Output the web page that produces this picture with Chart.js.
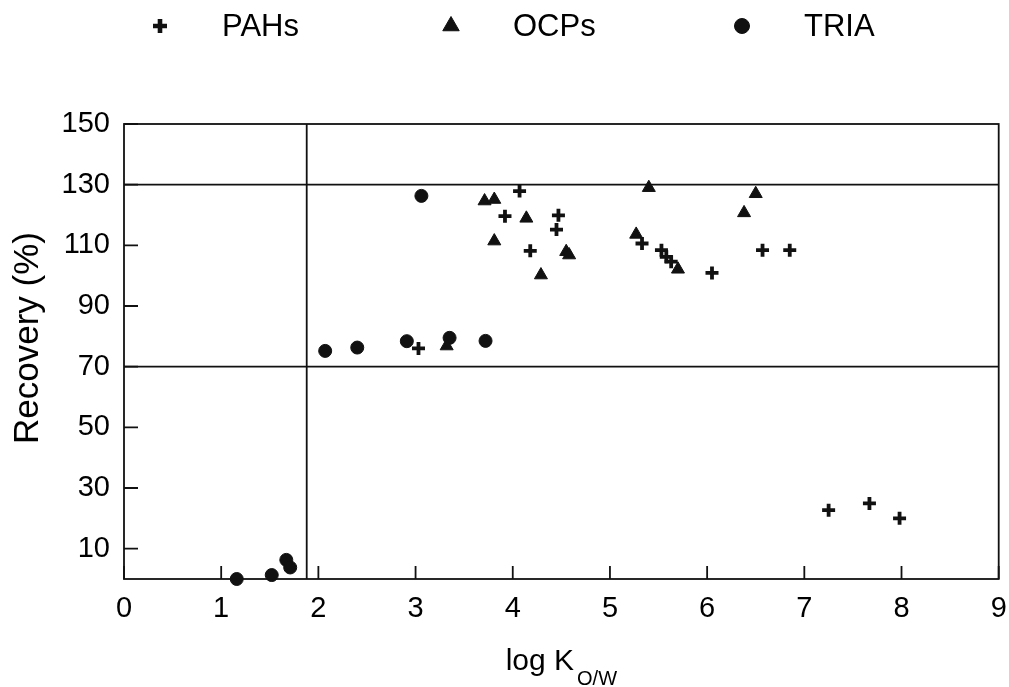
<!DOCTYPE html>
<html>
<head>
<meta charset="utf-8">
<script src="https://cdn.jsdelivr.net/npm/chart.js@4/dist/chart.umd.min.js"></script>
<style>
  body { margin: 0; background: #fff; }
  canvas { display: block; }
</style>
</head>
<body>
<canvas id="recoveryChart" width="1009" height="687"></canvas>
<script>
// series (x = log Ko/w, y = recovery %)
const pahX = [4.07, 3.92, 4.18, 3.03, 4.47, 4.45, 5.33, 5.53, 5.58, 5.63, 6.05, 6.57, 6.85, 7.25, 7.67, 7.98];
const pahY = [127.9, 119.6, 108.2, 76.0, 119.9, 115.2, 110.6, 108.4, 106.2, 104.6, 100.9, 108.4, 108.4, 22.7, 24.9, 20.0];
const ocpX = [3.71, 3.81, 4.14, 3.81, 4.29, 3.32, 4.55, 4.58, 5.40, 6.50, 6.38, 5.27, 5.70];
const ocpY = [124.6, 125.1, 118.9, 111.4, 100.2, 76.8, 107.9, 106.8, 129.0, 127.0, 120.7, 113.6, 102.1];
const triaX = [3.06, 2.07, 2.40, 2.91, 3.35, 3.72, 1.16, 1.52, 1.67, 1.71];
const triaY = [126.3, 75.2, 76.3, 78.4, 79.5, 78.5, 0.0, 1.3, 6.3, 3.8];

const seriesNames = ['PAHs', 'OCPs', 'TRIA'];
const xTicks = [0, 1, 2, 3, 4, 5, 6, 7, 8, 9];
const yTicks = [10, 30, 50, 70, 90, 110, 130, 150];
const refLinesY = [70, 130];
const refLineX = 1.88;

const ink = '#111';
const fontFamily = "'Liberation Sans', Arial, Helvetica, sans-serif";

function toPoints(xs, ys) {
    return xs.map((x, i) => ({ x: x, y: ys[i] }));
}

const markers = [
    { pointStyle: 'cross', radius: 6.5, borderWidth: 3.8, legendRadius: 7, legendWidth: 4.6 },
    { pointStyle: 'triangle', radius: 7.5, borderWidth: 1, legendRadius: 9.5, legendWidth: 1 },
    { pointStyle: 'circle', radius: 6.5, borderWidth: 1, legendRadius: 7.5, legendWidth: 1 }
];

const pointSets = [toPoints(pahX, pahY), toPoints(ocpX, ocpY), toPoints(triaX, triaY)];

const datasets = pointSets.map((pts, i) => ({
    label: seriesNames[i],
    data: pts,
    pointStyle: markers[i].pointStyle,
    pointRadius: markers[i].radius,
    pointBorderWidth: markers[i].borderWidth,
    pointBackgroundColor: ink,
    pointBorderColor: ink,
    clip: false
}));

// the two horizontal limits and the vertical divider
refLinesY.forEach(v => {
    datasets.push({
        label: '',
        data: [{ x: xTicks[0], y: v }, { x: xTicks[xTicks.length - 1], y: v }],
        showLine: true, borderColor: ink, borderWidth: 1.8, pointRadius: 0
    });
});
datasets.push({
    label: '',
    data: [{ x: refLineX, y: 0 }, { x: refLineX, y: yTicks[yTicks.length - 1] }],
    showLine: true, borderColor: ink, borderWidth: 1.8, pointRadius: 0
});

// box, inward ticks, axis titles and the legend row
const framePlugin = {
    id: 'framePlugin',
    afterDraw(chart) {
        const { ctx, chartArea: a, scales: { x, y } } = chart;
        ctx.save();
        ctx.strokeStyle = ink;
        ctx.lineWidth = 1.8;
        ctx.strokeRect(a.left, a.top, a.right - a.left, a.bottom - a.top);

        ctx.beginPath();
        xTicks.forEach(v => {
            const px = x.getPixelForValue(v);
            ctx.moveTo(px, a.bottom);
            ctx.lineTo(px, a.bottom - 13);
        });
        yTicks.forEach(v => {
            const py = y.getPixelForValue(v);
            ctx.moveTo(a.left, py);
            ctx.lineTo(a.left + 14, py);
        });
        ctx.stroke();

        ctx.fillStyle = '#000';
        // x title with subscript
        const mainFont = '30px ' + fontFamily;
        const subFont = '20px ' + fontFamily;
        ctx.font = mainFont;
        const mainText = 'log K';
        const mainW = ctx.measureText(mainText).width;
        ctx.font = subFont;
        const subText = 'O/W';
        const subW = ctx.measureText(subText).width;
        const cx = (a.left + a.right) / 2;
        const startX = cx - (mainW + subW + 3) / 2;
        ctx.textAlign = 'left';
        ctx.textBaseline = 'alphabetic';
        ctx.font = mainFont;
        ctx.fillText(mainText, startX, 670);
        ctx.font = subFont;
        ctx.fillText(subText, startX + mainW + 3, 685);

        // y title
        ctx.save();
        ctx.translate(28, 338);
        ctx.rotate(-Math.PI / 2);
        ctx.font = '35px ' + fontFamily;
        ctx.textAlign = 'center';
        ctx.textBaseline = 'middle';
        ctx.fillText('Recovery (%)', 0, 0);
        ctx.restore();

        // legend
        const legendY = 26;
        ctx.font = '31px ' + fontFamily;
        ctx.textAlign = 'left';
        ctx.textBaseline = 'middle';
        seriesNames.forEach((name, i) => {
            const mx = 160 + i * 291;
            ctx.fillStyle = ink;
            ctx.strokeStyle = ink;
            ctx.lineWidth = markers[i].legendWidth;
            Chart.helpers.drawPoint(ctx, {
                pointStyle: markers[i].pointStyle,
                radius: markers[i].legendRadius,
                rotation: 0,
                borderWidth: markers[i].legendWidth
            }, mx, legendY);
            ctx.fillStyle = '#000';
            ctx.fillText(name, mx + 62, legendY + 1);
        });
        ctx.restore();
    }
};

const ctx = document.getElementById('recoveryChart').getContext('2d');

const chart = new Chart(ctx, {
    type: 'scatter',
    data: { datasets: datasets },
    options: {
        responsive: false,
        animation: false,
        layout: { padding: { top: 124, right: 10, left: 0, bottom: 0 } },
        plugins: {
            legend: { display: false },
            tooltip: { enabled: false }
        },
        scales: {
            x: {
                type: 'linear',
                min: 0,
                max: 9,
                afterBuildTicks: scale => { scale.ticks = xTicks.map(v => ({ value: v })); },
                afterFit: scale => { scale.height = 108; scale.paddingLeft = 0; scale.paddingRight = 0; },
                grid: { display: false, drawTicks: false },
                border: { display: false },
                ticks: { padding: 13, color: '#000', maxRotation: 0, font: { family: fontFamily, size: 29 } }
            },
            y: {
                type: 'linear',
                min: 0,
                max: 150,
                afterBuildTicks: scale => { scale.ticks = yTicks.map(v => ({ value: v })); },
                afterFit: scale => { scale.width = 124; scale.paddingTop = 0; scale.paddingBottom = 0; },
                grid: { display: false, drawTicks: false },
                border: { display: false },
                ticks: { padding: 14, color: '#000', font: { family: fontFamily, size: 29 } }
            }
        }
    },
    plugins: [framePlugin]
});
</script>
</body>
</html>
